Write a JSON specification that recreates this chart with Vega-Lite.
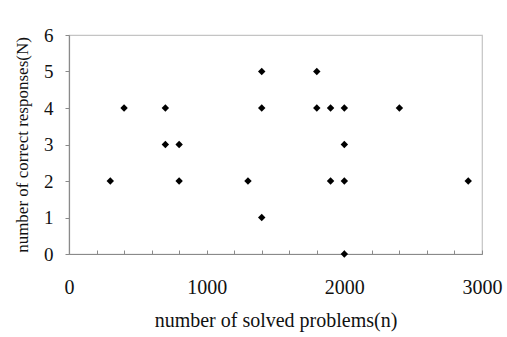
{
  "$schema": "https://vega.github.io/schema/vega-lite/v6.json",
  "autosize": "none",
  "width": 413,
  "height": 219,
  "padding": {"left": 69, "top": 35, "right": 25, "bottom": 83},
  "background": "white",
  "config": {
    "view": {"stroke": "#c4c4c4", "strokeWidth": 1.2},
    "font": "Liberation Serif"
  },
  "data": {
    "values": [
      {"n": 300, "N": 2},
      {"n": 400, "N": 4},
      {"n": 700, "N": 4},
      {"n": 700, "N": 3},
      {"n": 800, "N": 3},
      {"n": 800, "N": 2},
      {"n": 1300, "N": 2},
      {"n": 1400, "N": 5},
      {"n": 1400, "N": 4},
      {"n": 1400, "N": 1},
      {"n": 1800, "N": 5},
      {"n": 1800, "N": 4},
      {"n": 1900, "N": 4},
      {"n": 1900, "N": 2},
      {"n": 2000, "N": 4},
      {"n": 2000, "N": 3},
      {"n": 2000, "N": 2},
      {"n": 2000, "N": 0},
      {"n": 2400, "N": 4},
      {"n": 2900, "N": 2}
    ]
  },
  "mark": {"type": "point", "shape": "diamond", "filled": true, "color": "#000000", "opacity": 1, "size": 55},
  "encoding": {
    "x": {
      "field": "n",
      "type": "quantitative",
      "scale": {"domain": [0, 3000], "nice": false, "zero": true},
      "axis": {
        "title": "number of solved problems(n)",
        "titleFont": "Liberation Serif",
        "titleFontSize": 20,
        "titleFontWeight": "normal",
        "titleColor": "#111111",
        "titlePadding": 13,
        "values": [0, 200, 400, 600, 800, 1000, 1200, 1400, 1600, 1800, 2000, 2200, 2400, 2600, 2800, 3000],
        "labelExpr": "datum.value % 1000 === 0 ? datum.value : ''",
        "labelFont": "Liberation Serif",
        "labelFontSize": 20,
        "labelColor": "#111111",
        "labelPadding": 27,
        "labelFlush": false,
        "labelOverlap": false,
        "grid": false,
        "domainColor": "#8a8a8a",
        "domainWidth": 1.2,
        "tickColor": "#8a8a8a",
        "tickSize": -4,
        "tickWidth": 1
      }
    },
    "y": {
      "field": "N",
      "type": "quantitative",
      "scale": {"domain": [0, 6], "nice": false},
      "axis": {
        "title": "number of correct responses(N)",
        "titleFont": "Liberation Serif",
        "titleFontSize": 17,
        "titleFontWeight": "normal",
        "titleColor": "#111111",
        "titlePadding": 12,
        "values": [0, 1, 2, 3, 4, 5, 6],
        "labelFont": "Liberation Serif",
        "labelFontSize": 19,
        "labelColor": "#111111",
        "labelPadding": 12,
        "labelFlush": false,
        "grid": false,
        "domainColor": "#8a8a8a",
        "domainWidth": 1.2,
        "tickColor": "#8a8a8a",
        "tickSize": 4,
        "tickWidth": 1
      }
    }
  }
}
